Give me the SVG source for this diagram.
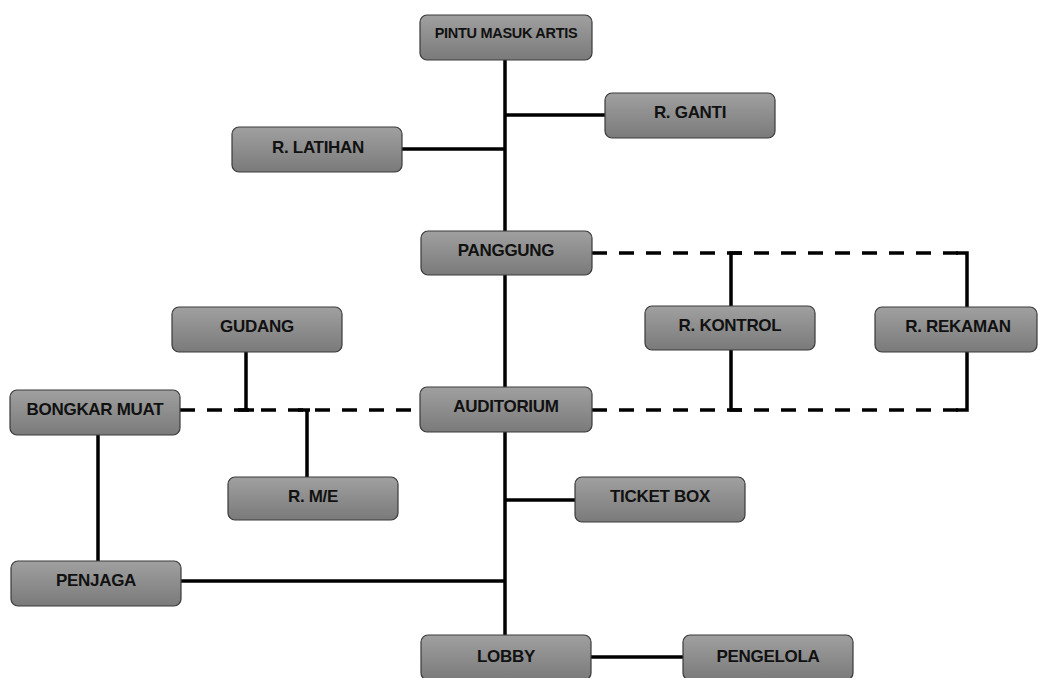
<svg xmlns="http://www.w3.org/2000/svg" width="1038" height="678" viewBox="0 0 1038 678">
<defs>
<linearGradient id="g" x1="0" y1="0" x2="0" y2="1">
<stop offset="0" stop-color="#a0a0a0"/>
<stop offset="1" stop-color="#7a7a7a"/>
</linearGradient>
</defs>
<style>
.n rect{fill:url(#g);stroke:#3a3a3a;stroke-width:1.2}
.n text{font-family:"Liberation Sans",Arial,sans-serif;font-weight:bold;font-size:17px;fill:#111;text-anchor:middle;letter-spacing:-0.3px}
.c line,.c polyline{stroke:#000;stroke-width:3.5;fill:none}
.c .d{stroke-dasharray:15 12}
</style>
<rect width="1038" height="678" fill="#fff"/>
<g class="c">
<line x1="505" y1="60" x2="505" y2="231"/>
<line x1="505" y1="115" x2="605" y2="115"/>
<line x1="402" y1="149" x2="505" y2="149"/>
<line x1="505" y1="275" x2="505" y2="387"/>
<line x1="505" y1="432" x2="505" y2="635"/>
<line x1="505" y1="500" x2="575" y2="500"/>
<line x1="181" y1="581" x2="505" y2="581"/>
<line x1="591" y1="657" x2="683" y2="657"/>
<line x1="98" y1="435" x2="98" y2="561"/>
<line class="d" x1="592" y1="253" x2="966" y2="253"/>
<polyline points="731,306 731,253 742,253"/>
<polyline points="956,253 967,253 967,307"/>
<line class="d" x1="592" y1="410" x2="966" y2="410"/>
<polyline points="731,350 731,410 742,410"/>
<polyline points="956,410 967,410 967,352"/>
<line class="d" x1="180" y1="410" x2="420" y2="410"/>
<polyline points="246,352 246,410"/>
<line x1="238" y1="410" x2="254" y2="410"/>
<line x1="307" y1="410" x2="307" y2="477"/>
<line x1="298" y1="410" x2="310" y2="410"/>
</g>
<g id="pintu" class="n"><rect x="420" y="15" width="172" height="45" rx="7"/><text x="506" y="38" style="font-size:14.5px">PINTU MASUK ARTIS</text></g>
<g id="ganti" class="n"><rect x="605" y="93" width="170" height="45" rx="7"/><text x="690" y="118">R. GANTI</text></g>
<g id="latihan" class="n"><rect x="232" y="127" width="170" height="45" rx="7"/><text x="318" y="153">R. LATIHAN</text></g>
<g id="panggung" class="n"><rect x="421" y="231" width="171" height="44" rx="7"/><text x="506" y="256">PANGGUNG</text></g>
<g id="gudang" class="n"><rect x="172" y="307" width="170" height="45" rx="7"/><text x="257" y="332">GUDANG</text></g>
<g id="kontrol" class="n"><rect x="645" y="306" width="170" height="44" rx="7"/><text x="730" y="331">R. KONTROL</text></g>
<g id="rekaman" class="n"><rect x="875" y="307" width="162" height="45" rx="7"/><text x="958" y="332">R. REKAMAN</text></g>
<g id="bongkar" class="n"><rect x="10" y="390" width="170" height="45" rx="7"/><text x="95" y="415">BONGKAR MUAT</text></g>
<g id="auditorium" class="n"><rect x="420" y="387" width="172" height="45" rx="7"/><text x="506" y="412">AUDITORIUM</text></g>
<g id="me" class="n"><rect x="228" y="477" width="170" height="43" rx="7"/><text x="313" y="502">R. M/E</text></g>
<g id="ticket" class="n"><rect x="575" y="477" width="170" height="45" rx="7"/><text x="660" y="502">TICKET BOX</text></g>
<g id="penjaga" class="n"><rect x="11" y="561" width="170" height="45" rx="7"/><text x="96" y="586">PENJAGA</text></g>
<g id="lobby" class="n"><rect x="421" y="635" width="170" height="45" rx="7"/><text x="506" y="662">LOBBY</text></g>
<g id="pengelola" class="n"><rect x="683" y="635" width="170" height="45" rx="7"/><text x="768" y="662">PENGELOLA</text></g>
</svg>
